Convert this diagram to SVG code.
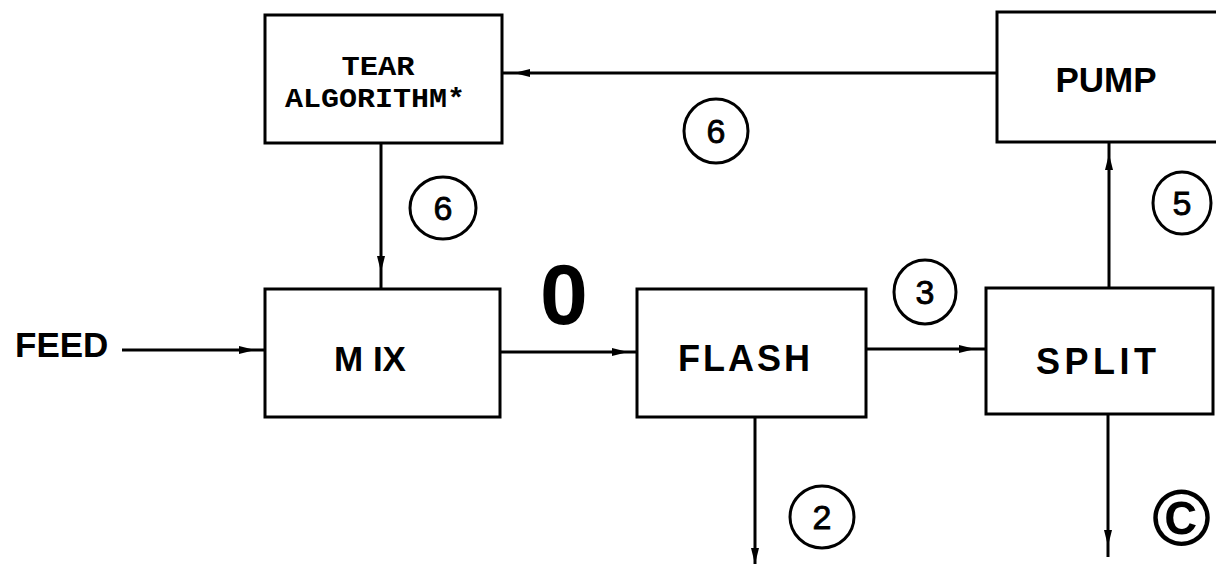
<svg xmlns="http://www.w3.org/2000/svg" width="1216" height="564" viewBox="0 0 1216 564">
<defs>
<style>
.box{fill:#fff;stroke:#000;stroke-width:3}
.ln{fill:none;stroke:#000;stroke-width:3;marker-mid:url(#arr)}
.lbl{font-family:"Liberation Sans",Arial,sans-serif;font-weight:bold;fill:#000}
.mono{font-family:"Liberation Mono","Courier New",monospace;font-weight:bold;fill:#000;font-size:28px}
.circ{fill:none;stroke:#000;stroke-width:3}
.num{font-family:"Liberation Sans",Arial,sans-serif;font-size:34px;fill:#000;stroke:#000;stroke-width:0.8;text-anchor:middle}
</style>
<marker id="arr" viewBox="0 0 16 10" refX="16" refY="5" markerWidth="16" markerHeight="10" markerUnits="userSpaceOnUse" orient="auto">
<path d="M0,1 L16,5 L0,9 z" fill="#000"/>
</marker>
</defs>
<rect width="1216" height="564" fill="#fff"/>
<g id="connectors">
<path class="ln" d="M122,350 L255,350 L265,350"/>
<path class="ln" d="M500,352 L628,352 L637,352"/>
<path class="ln" d="M866,349 L975,349 L986,349"/>
<path class="ln" d="M1109,288 L1109,154 L1109,142"/>
<path class="ln" d="M997,73 L514,73 L502,73"/>
<path class="ln" d="M381,143 L381,272 L381,288"/>
<path class="ln" d="M755,417 L755,564 L755,570"/>
<path class="ln" d="M1108,414 L1108,546 L1108,557"/>
</g>
<g id="tear">
<rect class="box" x="265" y="15" width="237" height="128"/>
<text class="mono" x="378" y="75" text-anchor="middle" textLength="73" lengthAdjust="spacingAndGlyphs">TEAR</text>
<text class="mono" x="375" y="107" text-anchor="middle" textLength="180" lengthAdjust="spacingAndGlyphs">ALGORITHM*</text>
</g>
<g id="pump">
<rect class="box" x="997" y="12" width="240" height="130"/>
<text class="lbl" x="1106" y="92" text-anchor="middle" font-size="35">PUMP</text>
</g>
<g id="mix">
<rect class="box" x="265" y="289" width="235" height="128"/>
<text class="lbl" x="370" y="371" text-anchor="middle" font-size="35">M IX</text>
</g>
<g id="flash">
<rect class="box" x="637" y="289" width="229" height="128"/>
<text class="lbl" x="678" y="371" font-size="36" textLength="132" lengthAdjust="spacing">FLASH</text>
</g>
<g id="split">
<rect class="box" x="986" y="288" width="227" height="126"/>
<text class="lbl" x="1036" y="374" font-size="36" textLength="120" lengthAdjust="spacing">SPLIT</text>
</g>
<g id="feed">
<text class="lbl" x="15" y="357" font-size="35">FEED</text>
</g>
<g id="stream-labels">
<text class="lbl" x="564" y="324" text-anchor="middle" font-size="86">0</text>
<ellipse class="circ" cx="443" cy="208" rx="33" ry="31"/>
<text class="num" x="443" y="220">6</text>
<ellipse class="circ" cx="716" cy="131" rx="32" ry="32"/>
<text class="num" x="716" y="143">6</text>
<ellipse class="circ" cx="1182" cy="203" rx="29" ry="31"/>
<text class="num" x="1182" y="215">5</text>
<ellipse class="circ" cx="925" cy="292" rx="31" ry="32"/>
<text class="num" x="925" y="304">3</text>
<ellipse class="circ" cx="822" cy="517" rx="32" ry="31"/>
<text class="num" x="822" y="529">2</text>
<text class="lbl" x="1152" y="545" font-size="80">©</text>
</g>
</svg>
